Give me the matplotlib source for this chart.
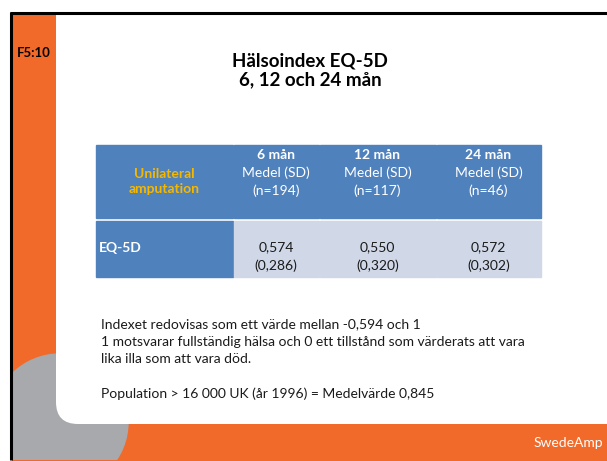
import matplotlib
matplotlib.use("Agg")
import matplotlib.pyplot as plt
from matplotlib.patches import Rectangle, FancyBboxPatch, Circle

plt.rcParams['font.family'] = ['Lato', 'DejaVu Sans']

# innehåll
titel = ["Hälsoindex EQ-5D", "6, 12 och 24 mån"]
kolumner = ["6 mån", "12 mån", "24 mån"]
antal = ["(n=194)", "(n=117)", "(n=46)"]
medel = ["0,574", "0,550", "0,572"]
sd = ["(0,286)", "(0,320)", "(0,302)"]
rad_etikett = "EQ-5D"
grupp = "Unilateral\namputation"
fotnot = ["Indexet redovisas som ett värde mellan -0,594 och 1",
          "1 motsvarar fullständig hälsa och 0 ett tillstånd som värderats att vara",
          "lika illa som att vara död.",
          "",
          "Population > 16 000 UK (år 1996) = Medelvärde 0,845"]

orange = "#F26A2A"
gra = "#A7A9AC"
bla = "#4F81BD"
ljus = "#D0D8E8"
guld = "#F5B800"

fig = plt.figure(figsize=(6.07, 4.61), dpi=100)
ax = fig.add_axes([0, 0, 1, 1])
ax.set_xlim(0, 607)
ax.set_ylim(461, 0)
ax.axis("off")

# bakgrund
ax.add_patch(Rectangle((12, 13), 600, 447, color=orange, zorder=0))
cirkel = Circle((60, 422), 68, color=gra, zorder=1)
ax.add_patch(cirkel)
cirkel.set_clip_path(Rectangle((12, 13), 600, 447, transform=ax.transData))
ax.add_patch(FancyBboxPatch((56, -60), 600, 484, boxstyle="round,pad=0,rounding_size=22",
                            fc="white", ec="none", zorder=2))
ax.plot([10, 607], [13.5, 13.5], color="black", lw=2.2, zorder=5, solid_capstyle="butt")
ax.plot([11, 11], [12.5, 460], color="black", lw=2.2, zorder=5, solid_capstyle="butt")

ax.text(33.5, 53, "F5:10", ha="center", va="center", fontsize=9.5, fontweight="bold", zorder=6)
ax.text(310, 61, titel[0], ha="center", va="center", fontsize=13.5, fontweight="bold", zorder=6)
ax.text(310, 80, titel[1], ha="center", va="center", fontsize=13.5, fontweight="bold", zorder=6)

# tabell
kanter = [95, 233, 319, 436, 541]
rad1 = (145, 218)
rad2 = (221, 277)
for i in range(4):
    x0, x1 = kanter[i] + 0.5, kanter[i + 1] - 0.5
    ax.add_patch(Rectangle((x0, rad1[0]), x1 - x0, rad1[1] - rad1[0], color=bla, zorder=3))
    ax.add_patch(Rectangle((x0, rad2[0]), x1 - x0, rad2[1] - rad2[0],
                           color=bla if i == 0 else ljus, zorder=3))

ax.text((kanter[0] + kanter[1]) / 2, 181.5, grupp, ha="center", va="center", fontsize=10,
        fontweight="bold", color=guld, linespacing=1.3, zorder=6)
ax.text(kanter[0] + 4, 248, rad_etikett, ha="left", va="center", fontsize=10,
        fontweight="bold", color="white", zorder=6)
for i in range(3):
    xc = (kanter[i + 1] + kanter[i + 2]) / 2
    ax.text(xc, 155, kolumner[i], ha="center", va="center", fontsize=10, fontweight="bold",
            color="white", zorder=6)
    ax.text(xc, 173, "Medel (SD)", ha="center", va="center", fontsize=10, color="white", zorder=6)
    ax.text(xc, 191, antal[i], ha="center", va="center", fontsize=10, color="white", zorder=6)
    ax.text(xc, 247, medel[i], ha="center", va="center", fontsize=10, color="#1a1a1a", zorder=6)
    ax.text(xc, 266, sd[i], ha="center", va="center", fontsize=10, color="#1a1a1a", zorder=6)

# fotnot
for j, rad in enumerate(fotnot):
    ax.text(101, 324 + j * 17.5, rad, ha="left", va="center", fontsize=10, color="#1a1a1a", zorder=6)

ax.text(603, 443, "SwedeAmp", ha="right", va="center", fontsize=10, color="white", zorder=6)

fig.savefig("out.png", dpi=100)
